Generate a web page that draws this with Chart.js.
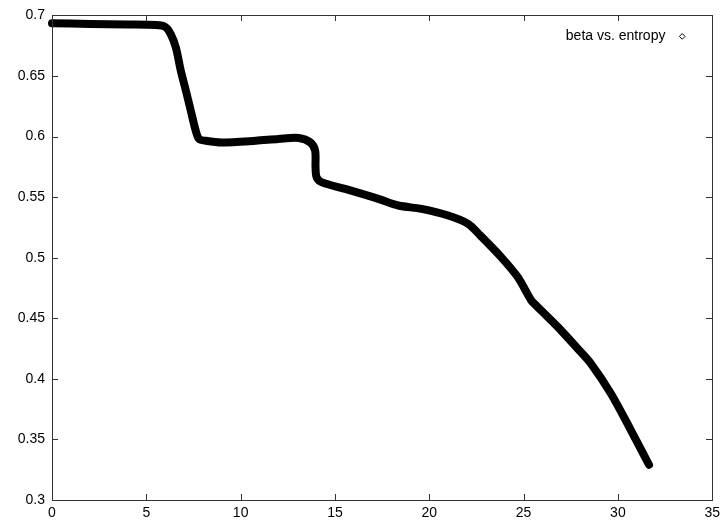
<!DOCTYPE html>
<html>
<head>
<meta charset="utf-8">
<script src="https://cdn.jsdelivr.net/npm/chart.js@4"></script>
<style>
  html, body { margin: 0; padding: 0; background: #fff; }
  #wrap { width: 725px; height: 523px; }
</style>
</head>
<body>
<div id="wrap"><canvas id="entropyChart" width="725" height="523"></canvas></div>
<script>
const ctx = document.getElementById('entropyChart').getContext('2d');

// values
const beta = [0, 2, 4, 5.5, 6.0, 6.3, 6.57, 6.83, 7.1, 7.36, 7.62, 7.8, 8.15, 9.0, 10.8, 12.0, 13.08, 13.7,
    13.95, 13.97, 14.03, 14.31, 15.54, 17.3, 18.36, 19.59, 21.0, 22.06, 22.7, 23.81, 24.69, 25.4, 25.66,
    26.81, 27.86, 28.56, 29.62, 30.68, 31.65]
const entropy = [0.6935, 0.693, 0.6925, 0.692, 0.6905, 0.6844, 0.6733, 0.6542, 0.6377, 0.6212, 0.6048, 0.598,
    0.5965, 0.5951, 0.5965, 0.598, 0.5988, 0.5951, 0.5883, 0.5746, 0.5663, 0.5622, 0.5568, 0.5486, 0.5431,
    0.5403, 0.5348, 0.528, 0.5184, 0.5005, 0.484, 0.4649, 0.4607, 0.4429, 0.4251, 0.4128, 0.3881, 0.3579, 0.3291]
const xTicks = [0, 5, 10, 15, 20, 25, 30, 35]
const yTicks = [0.3, 0.35, 0.4, 0.45, 0.5, 0.55, 0.6, 0.65, 0.7]
const seriesLabel = 'beta vs. entropy'

const points = beta.map((b, i) => ({x: b, y: entropy[i]}))
const font = {family: '"Liberation Sans", Arial, sans-serif', size: 14}
const axisColor = '#333'
const legendPad = 10

// gnuplot style frame with inward ticks on all four sides
const framePlugin = {
    id: 'frame',
    afterLayout(chart) {
        // put the key inside the plot, top right, text before marker
        const lg = chart.legend
        const a = chart.chartArea
        lg.top = a.top + 4
        lg.bottom = lg.top + lg.height
        lg.right = a.right - 28 + legendPad
        lg.left = lg.right - lg.width
    },
    afterDraw(chart) {
        const c = chart.ctx
        const a = chart.chartArea
        const sx = chart.scales.x
        const sy = chart.scales.y
        const len = 6
        const l = Math.round(a.left), r = Math.round(a.right)
        const t = Math.round(a.top), b = Math.round(a.bottom)
        c.save()
        c.fillStyle = axisColor
        c.fillRect(l, t, r - l + 1, 1)
        c.fillRect(l, b, r - l + 1, 1)
        c.fillRect(l, t, 1, b - t + 1)
        c.fillRect(r, t, 1, b - t + 1)
        for (let i = 0; i < xTicks.length; i++) {
            const px = Math.round(sx.getPixelForValue(xTicks[i]))
            c.fillRect(px, b - len, 1, len)
            c.fillRect(px, t, 1, len)
        }
        for (let i = 0; i < yTicks.length; i++) {
            const py = Math.round(sy.getPixelForValue(yTicks[i]))
            c.fillRect(l, py, len, 1)
            c.fillRect(r - len, py, len, 1)
        }
        c.restore()
    }
}

const data = {
    datasets: [{
        label: seriesLabel,
        data: points,
        borderColor: '#000',
        backgroundColor: '#000',
        borderWidth: 8,
        borderCapStyle: 'round',
        borderJoinStyle: 'round',
        pointRadius: 0,
        tension: 0.3,
        clip: false,
    }],
}

const config = {
    type: 'line',
    data: data,
    plugins: [framePlugin],
    options: {
        responsive: false,
        animation: false,
        layout: {padding: {top: 14, right: 10, left: 0, bottom: 0}},
        plugins: {
            tooltip: {enabled: false},
            legend: {
                position: 'chartArea',
                align: 'start',
                rtl: true,
                labels: {
                    font: font,
                    color: '#000',
                    usePointStyle: true,
                    boxWidth: 4,
                    boxHeight: 4,
                    padding: legendPad,
                    generateLabels: () => [{
                        text: seriesLabel + '  ',
                        fillStyle: '#fff',
                        strokeStyle: '#000',
                        lineWidth: 1,
                        pointStyle: 'rectRot',
                        fontColor: '#000',
                        datasetIndex: 0,
                    }],
                },
            },
        },
        scales: {
            x: {
                type: 'linear',
                min: 0,
                max: 35,
                grid: {display: false, drawTicks: false, tickLength: 0},
                border: {display: false},
                afterBuildTicks: s => { s.ticks = xTicks.map(v => ({value: v})) },
                afterFit: s => { s.height = 23 },
                ticks: {font: font, color: '#000', padding: 5, maxRotation: 0,
                    callback: v => String(v)},
            },
            y: {
                type: 'linear',
                min: 0.3,
                max: 0.7,
                grid: {display: false, drawTicks: false, tickLength: 0},
                border: {display: false},
                afterBuildTicks: s => { s.ticks = yTicks.map(v => ({value: v})) },
                afterFit: s => { s.width = 52 },
                ticks: {font: font, color: '#000', padding: 7,
                    callback: v => String(Math.round(v * 100) / 100)},
            },
        },
    },
}

const myChart = new Chart(ctx, config)
</script>
</body>
</html>
